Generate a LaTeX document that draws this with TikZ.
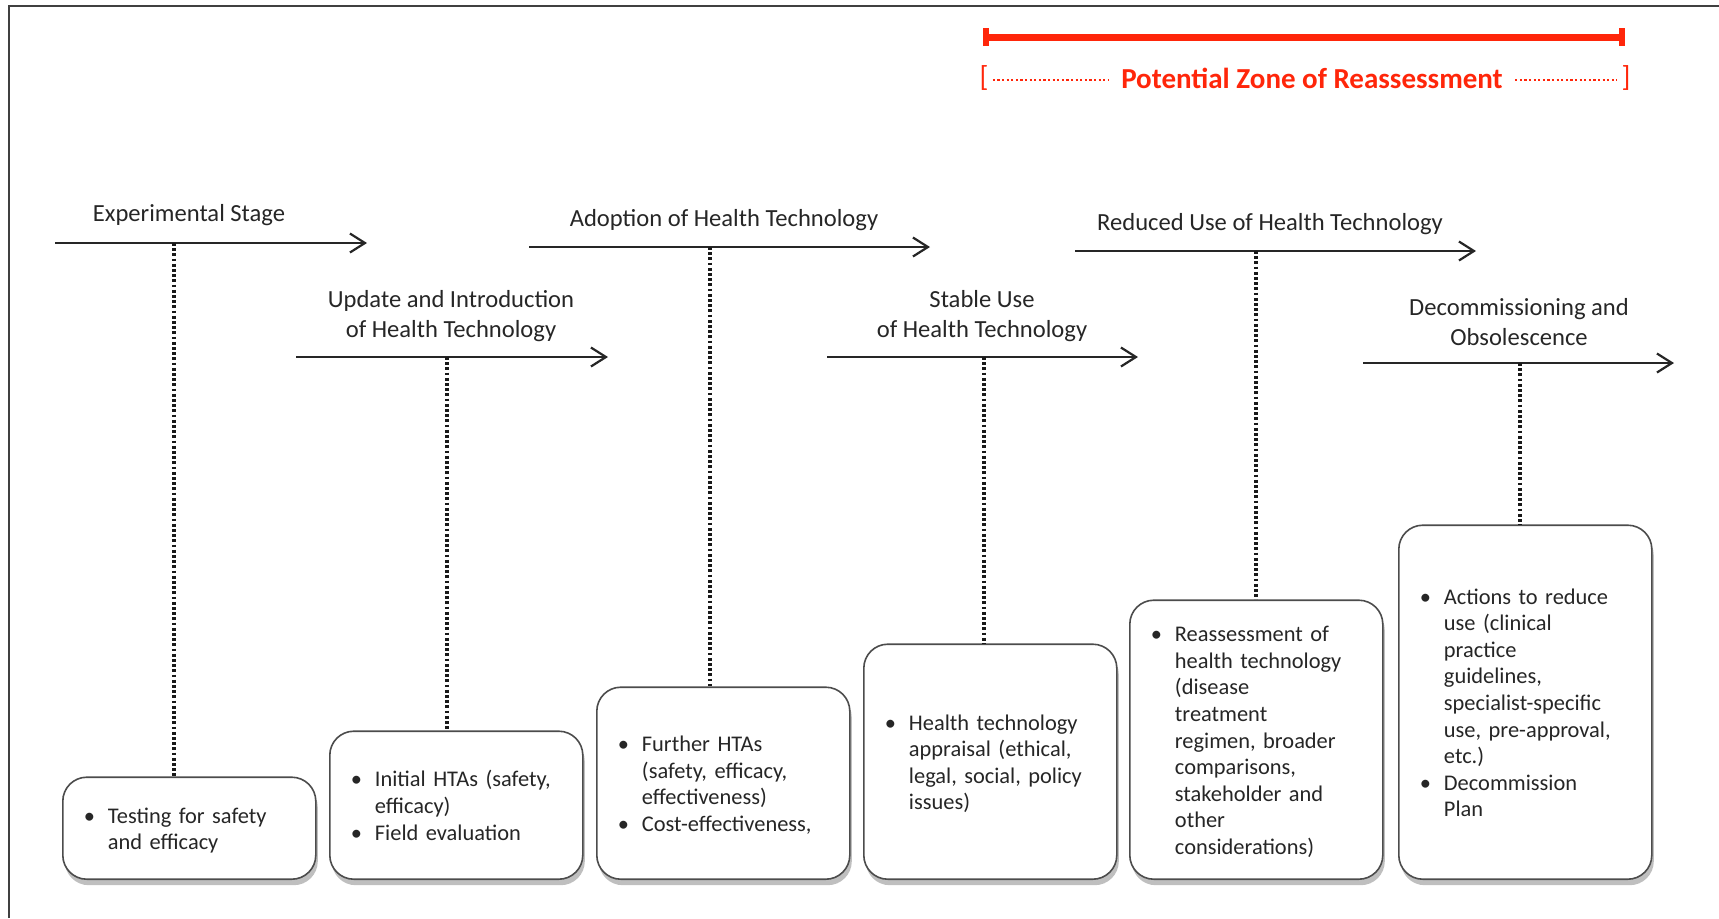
\documentclass[tikz,border=0pt]{standalone}
\usepackage{fontspec}
\setmainfont{Carlito}
\usetikzlibrary{arrows.meta,shadows}
\definecolor{zonered}{RGB}{255,38,10}
\newcommand{\stagelist}[1]{\vspace*{-3pt}\begin{tabular}{@{}l@{\hspace{6.5pt}}l@{}}#1\end{tabular}}

\begin{document}
\begin{tikzpicture}[x = {(0.5pt,0pt)},
                    y = {(0pt,-0.5pt)},
                    >={Straight Barb[length=7.5pt,width=9.5pt]},
                    color = {black!85}]
% styles
\tikzset{stagearrow/.style={black!85,line width=1.1pt,arrows = ->},
  dropline/.style={black!90,line width=1.6pt,dash pattern=on 1.4pt off 1.2pt},
  stagelabel/.style={align=center,inner sep=0pt,font=\fontsize{12.3}{14.8}\selectfont},
  stagebox/.style={draw=black!70,line width=0.8pt,rounded corners=12pt,fill=white,
    drop shadow={shadow xshift=1pt,shadow yshift=-3pt,opacity=.5},
    anchor=south west,minimum width=126.5pt,inner xsep=10.5pt,inner ysep=0pt,
    text width=105.5pt,align=left,font=\fontsize{11.2}{13.3}\selectfont},
  zonebar/.style={zonered,line width=3.5pt,{Bar[width=9pt,line width=3pt]}-{Bar[width=9pt,line width=3pt]}},
  zonedots/.style={zonered,line width=1.4pt,dash pattern=on 1.1pt off 1.2pt},
  zonetext/.style={text=zonered,inner sep=0pt,font=\fontsize{14.5}{17}\selectfont}}
\useasboundingbox (0,0) rectangle (1719,918);

% frame
\coordinate (f1) at (9,918);
\coordinate (f2) at (9,6);
\coordinate (f3) at (1719,6);
\draw[black!75,line width=1.2pt] (f1) -- (f2) -- (f3);

% zone of reassessment
\coordinate (z1) at (983,37);
\coordinate (z2) at (1625,37);
\draw[zonebar] (z1) -- (z2);
\node[zonetext] (zl) at (984,78) {[};
\node[zonetext] (zr) at (1626,78) {]};
\node[zonetext,font=\fontsize{14.5}{17}\selectfont\bfseries,inner xsep=6pt] (zt) at (1312,78) {Potential Zone of Reassessment};
\draw[zonedots] (zl.east) ++(4,2) -- (zt.west |- 0,80);
\draw[zonedots] (zt.east |- 0,80) -- ([xshift=-2pt]zr.west |- 0,80);

% stage arrows
\coordinate (a1s) at (55,243);
\coordinate (a1e) at (367,243);
\coordinate (a2s) at (296,357);
\coordinate (a2e) at (608,357);
\coordinate (a3s) at (529,247);
\coordinate (a3e) at (930,247);
\coordinate (a4s) at (827,357);
\coordinate (a4e) at (1138,357);
\coordinate (a5s) at (1075,251);
\coordinate (a5e) at (1476,251);
\coordinate (a6s) at (1363,363);
\coordinate (a6e) at (1674,363);
\draw[stagearrow] (a1s) -- (a1e);
\draw[stagearrow] (a2s) -- (a2e);
\draw[stagearrow] (a3s) -- (a3e);
\draw[stagearrow] (a4s) -- (a4e);
\draw[stagearrow] (a5s) -- (a5e);
\draw[stagearrow] (a6s) -- (a6e);

% stage labels
\node[stagelabel] (l1) at (189,215) {Experimental Stage};
\node[stagelabel] (l2) at (451,316) {Update and Introduction\\of Health Technology};
\node[stagelabel] (l3) at (724,220) {Adoption of Health Technology};
\node[stagelabel] (l4) at (982,316) {Stable Use\\of Health Technology};
\node[stagelabel] (l5) at (1270,224) {Reduced Use of Health Technology};
\node[stagelabel] (l6) at (1519,322) {Decommissioning and\\Obsolescence};

% boxes
\node[stagebox,minimum height=51pt] (b1) at (62,880)
  {\stagelist{\textbullet & Testing for safety\\ & and efficacy}};
\node[stagebox,minimum height=74pt] (b2) at (329,880)
  {\stagelist{\textbullet & Initial HTAs (safety,\\ & efficacy)\\ \textbullet & Field evaluation}};
\node[stagebox,minimum height=96pt] (b3) at (596,880)
  {\stagelist{\textbullet & Further HTAs\\ & (safety, efficacy,\\ & effectiveness)\\ \textbullet & Cost-effectiveness,}};
\node[stagebox,minimum height=117.5pt] (b4) at (863,880)
  {\stagelist{\textbullet & Health technology\\ & appraisal (ethical,\\ & legal, social, policy\\ & issues)}};
\node[stagebox,minimum height=139.5pt] (b5) at (1129,880)
  {\stagelist{\textbullet & Reassessment of\\ & health technology\\ & (disease\\ & treatment\\ & regimen, broader\\ & comparisons,\\ & stakeholder and\\ & other\\ & considerations)}};
\node[stagebox,minimum height=177pt] (b6) at (1398,880)
  {\stagelist{\textbullet & Actions to reduce\\ & use (clinical\\ & practice\\ & guidelines,\\ & specialist-specific\\ & use, pre-approval,\\ & etc.)\\ \textbullet & Decommission\\ & Plan}};

% dotted drops
\coordinate (d1) at (174,243);
\coordinate (d2) at (447,357);
\coordinate (d3) at (710,247);
\coordinate (d4) at (984,357);
\coordinate (d5) at (1256,251);
\coordinate (d6) at (1520,363);
\draw[dropline] (d1) -- (d1 |- b1.north);
\draw[dropline] (d2) -- (d2 |- b2.north);
\draw[dropline] (d3) -- (d3 |- b3.north);
\draw[dropline] (d4) -- (d4 |- b4.north);
\draw[dropline] (d5) -- (d5 |- b5.north);
\draw[dropline] (d6) -- (d6 |- b6.north);
\end{tikzpicture}
\end{document}
